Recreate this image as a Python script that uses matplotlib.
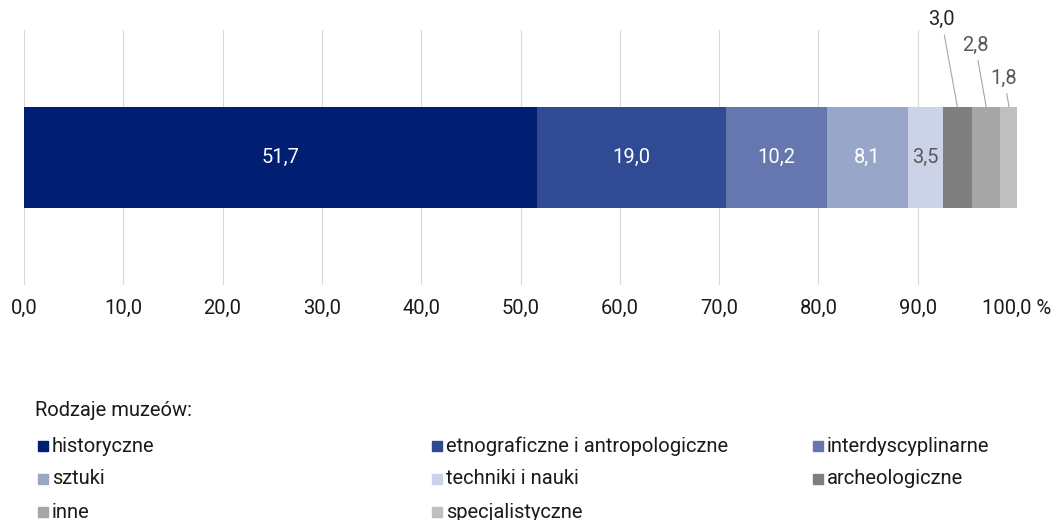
import matplotlib
matplotlib.use("Agg")
import matplotlib.pyplot as plt
from matplotlib.patches import Rectangle

plt.rcParams['font.family'] = ['Roboto', 'DejaVu Sans']

categories = ["historyczne", "etnograficzne i antropologiczne", "interdyscyplinarne",
              "sztuki", "techniki i nauki", "archeologiczne", "inne", "specjalistyczne"]
values = [51.7, 19.0, 10.2, 8.1, 3.5, 3.0, 2.8, 1.8]
colors = ["#001f73", "#304b94", "#6577ae", "#98a6ca", "#cdd3e7", "#7f7f7f", "#a6a6a6", "#bfbfbf"]
label_colors = ["white", "white", "white", "white", "#595959"]
ticks = [0, 10, 20, 30, 40, 50, 60, 70, 80, 90, 100]
tick_labels = ["0,0", "10,0", "20,0", "30,0", "40,0", "50,0", "60,0", "70,0", "80,0", "90,0", "100,0 %"]

# outside labels (label x, label y) for the three smallest segments
outside_pos = [(92.4, 0.54), (95.8, 0.44), (98.7, 0.31)]
outside_colors = ["#262626", "#595959", "#595959"]

FS = 14.5

fig = plt.figure(figsize=(10.62, 5.2), dpi=100)
ax = fig.add_axes([24 / 1062, 1 - 285 / 520, (1017 - 24) / 1062, 255 / 520])

bar_h = 0.396
left = 0
for i, v in enumerate(values):
    ax.barh(0, v, left=left, height=bar_h, color=colors[i], zorder=3)
    c = left + v / 2
    txt = f"{v:.1f}".replace(".", ",")
    if i < 5:
        ax.text(c, 0, txt, ha="center", va="center", color=label_colors[i], fontsize=FS, zorder=4)
    else:
        lx, ly = outside_pos[i - 5]
        ax.annotate(txt, xy=(c, bar_h / 2), xytext=(lx, ly), ha="center", va="center",
                    fontsize=FS, color=outside_colors[i - 5], annotation_clip=False,
                    arrowprops=dict(arrowstyle="-", color="#a6a6a6", lw=0.8, shrinkA=2, shrinkB=0))
    left += v

ax.set_xlim(0, 100)
ax.set_ylim(-0.5, 0.5)
ax.set_xticks(ticks)
ax.set_xticklabels(tick_labels, fontsize=FS, color="#1a1a1a")
ax.set_yticks([])
ax.tick_params(axis="x", length=0, pad=10)
ax.grid(axis="x", color="#d9d9d9", lw=0.8, zorder=0)
for s in ax.spines.values():
    s.set_visible(False)

# legend drawn by hand, three columns
fig.text(35 / 1062, 1 - 410 / 520, "Rodzaje muzeów:", fontsize=FS, color="#1a1a1a", va="center")
col_x = [38, 432, 813]
row_y = [446, 479, 512]
for k, name in enumerate(categories):
    x = col_x[k % 3]
    y = row_y[k // 3]
    fig.patches.append(Rectangle((x / 1062, 1 - (y + 5) / 520), 10 / 1062, 10 / 520,
                                 transform=fig.transFigure, color=colors[k]))
    fig.text((x + 14) / 1062, 1 - y / 520, name, fontsize=FS, color="#1a1a1a", va="center")

fig.savefig("out.png", dpi=100)
